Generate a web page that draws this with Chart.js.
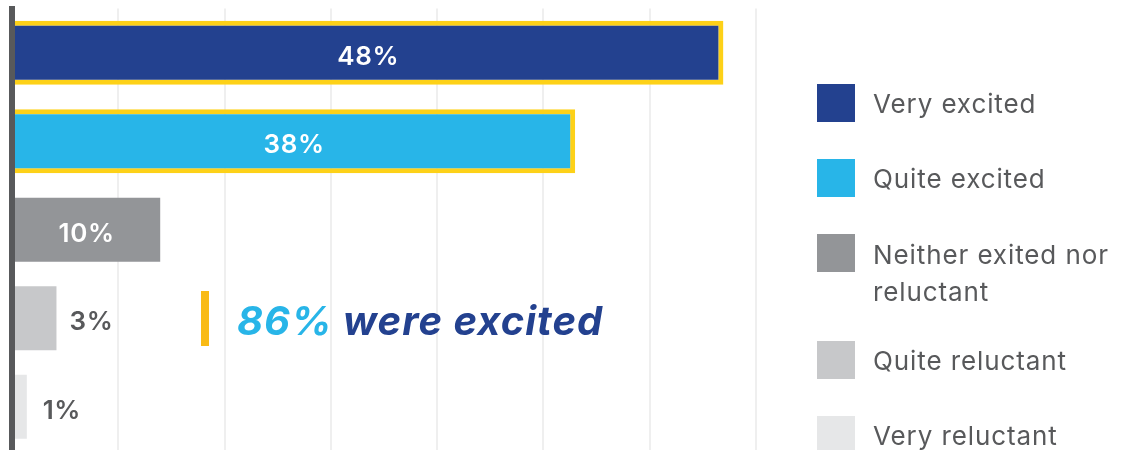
<!DOCTYPE html>
<html>
<head>
<meta charset="utf-8">
<script src="https://cdn.jsdelivr.net/npm/chart.js@4.4.1/dist/chart.umd.min.js"></script>
<style>
  html, body { margin: 0; padding: 0; overflow: hidden; background: #ffffff; width: 1123px; height: 450px; }
  #wrap { position: absolute; left: 0; top: 0; width: 1123px; height: 452px; }
  #legend { position: absolute; left: 817px; top: 84px; font-family: "Inter", "Open Sans", sans-serif; font-size: 26px; color: #58595b; letter-spacing: 0.9px; }
  .item { display: flex; align-items: flex-start; margin-bottom: 37px; height: 38px; }
  .item.multi { height: 70px; }
  .sw { width: 38px; height: 38px; flex: 0 0 38px; }
  .lt { margin-left: 18px; line-height: 36px; padding-top: 2px; white-space: nowrap; }
  .multi .lt { line-height: 37px; }
  #callBar { position: absolute; left: 201px; top: 291px; width: 8px; height: 55px; background: #f9bb16; }
  #callText { position: absolute; left: 237px; top: 301px; font-family: "Inter", "Open Sans", sans-serif; font-size: 40px; line-height: 40px; font-weight: 700; font-style: italic; white-space: nowrap; letter-spacing: 1px; }
</style>
</head>
<body>
<div id="wrap"><canvas id="c"></canvas></div>
<div id="legend"></div>
<div id="callBar"></div>
<div id="callText"></div>
<script>
// ---- data ----
const categories = ['Very excited', 'Quite excited', ['Neither exited nor', 'reluctant'], 'Quite reluctant', 'Very reluctant'];
const values = [48, 38, 10, 3, 1];
const valueLabels = ['48%', '38%', '10%', '3%', '1%'];
const barColors = ['#23418f', '#28b5e8', '#939598', '#c7c8ca', '#e6e7e8'];
const highlighted = [true, true, false, false, false];
const calloutValue = '86%';
const calloutText = 'were excited';

// ---- html legend & callout ----
const legendEl = document.getElementById('legend');
categories.forEach((cat, i) => {
  const lines = Array.isArray(cat) ? cat : [cat];
  const row = document.createElement('div');
  row.className = 'item' + (lines.length > 1 ? ' multi' : '');
  const sw = document.createElement('div');
  sw.className = 'sw';
  sw.style.background = barColors[i];
  const lt = document.createElement('div');
  lt.className = 'lt';
  lines.forEach((line, j) => {
    if (j > 0) lt.appendChild(document.createElement('br'));
    lt.appendChild(document.createTextNode(line));
  });
  row.appendChild(sw);
  row.appendChild(lt);
  legendEl.appendChild(row);
});
const callEl = document.getElementById('callText');
const s1 = document.createElement('span'); s1.style.color = '#28b5e8'; s1.textContent = calloutValue;
const s2 = document.createElement('span'); s2.style.color = '#23418f'; s2.textContent = ' ' + calloutText;
callEl.appendChild(s1); callEl.appendChild(s2);

// ---- value labels plugin ----
const valueLabelPlugin = {
  id: 'valueLabels',
  afterDatasetsDraw(chart) {
    const ctx = chart.ctx;
    const meta = chart.getDatasetMeta(0);
    ctx.save();
    ctx.font = '600 26px "Inter", "Open Sans", sans-serif';
    if ('letterSpacing' in ctx) ctx.letterSpacing = '0.6px';
    ctx.textAlign = 'center';
    ctx.textBaseline = 'middle';
    meta.data.forEach((bar, i) => {
      const v = values[i];
      let x, color;
      if (v >= 10) { x = (bar.x + bar.base) / 2; color = '#ffffff'; }
      else { x = bar.x + 35; color = '#58595b'; }
      ctx.fillStyle = color;
      ctx.fillText(valueLabels[i], x, bar.y + 4);
    });
    ctx.restore();
  }
};

new Chart(document.getElementById('c'), {
  type: 'bar',
  data: {
    labels: categories,
    datasets: [{
      data: values,
      backgroundColor: barColors,
      borderColor: highlighted.map(h => h ? '#fdd118' : 'rgba(0,0,0,0)'),
      borderWidth: highlighted.map(h => h ? 5 : 0),
      borderSkipped: 'start',
      barPercentage: 0.723,
      categoryPercentage: 1
    }]
  },
  options: {
    indexAxis: 'y',
    responsive: true,
    maintainAspectRatio: false,
    animation: false,
    events: [],
    layout: { padding: { left: 12, right: 367, top: 8.5, bottom: 1 } },
    plugins: { legend: { display: false }, tooltip: { enabled: false } },
    scales: {
      x: {
        min: 0,
        max: 50.2,
        ticks: { display: false, stepSize: 50.2 / 7 },
        grid: { color: '#efefef', lineWidth: 2, drawTicks: false },
        border: { display: false }
      },
      y: {
        ticks: { display: false },
        grid: { display: false, drawTicks: false },
        border: { display: true, color: '#58595b', width: 6, z: 1 }
      }
    }
  },
  plugins: [valueLabelPlugin]
});
</script>
</body>
</html>
